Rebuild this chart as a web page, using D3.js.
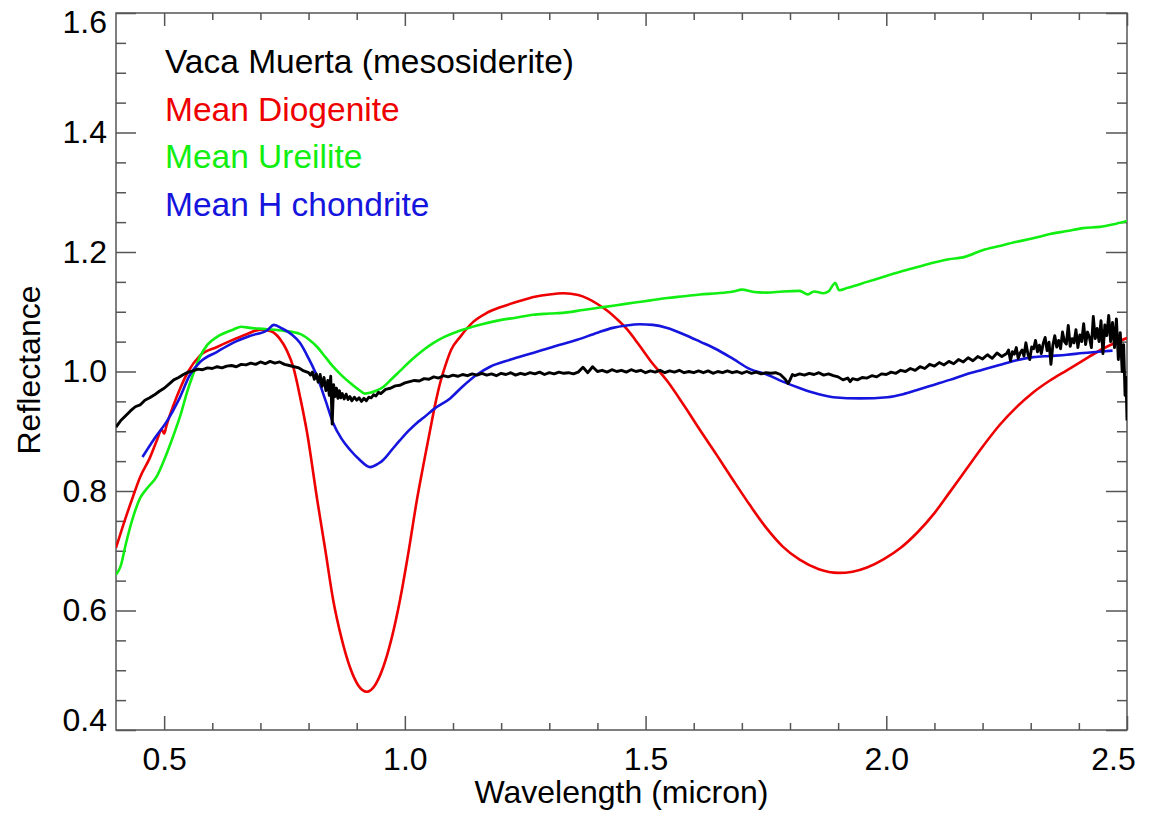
<!DOCTYPE html>
<html>
<head>
<meta charset="utf-8">
<script src="https://cdn.jsdelivr.net/npm/d3@7"></script>
<style>
  body { margin: 0; background: #fff; }
  svg text { font-family: "Liberation Sans", Arial, Helvetica, sans-serif; }
</style>
</head>
<body>
<svg id="chart" width="1156" height="818"></svg>
<script>
"use strict";

// series: [wavelength (micron), reflectance]
const vacaMuerta = [
  [0.40,0.907],[0.41,0.918],[0.42,0.926],[0.43,0.934],[0.44,0.941],[0.45,0.944],[0.46,0.952],[0.47,0.956],
  [0.48,0.961],[0.49,0.967],[0.50,0.972],[0.51,0.979],[0.52,0.986],[0.53,0.990],[0.54,0.995],[0.55,0.999],
  [0.56,1.001],[0.57,1.004],[0.58,1.003],[0.59,1.006],[0.60,1.005],[0.61,1.008],[0.62,1.006],[0.63,1.009],
  [0.64,1.010],[0.65,1.008],[0.66,1.012],[0.67,1.011],[0.68,1.014],[0.69,1.012],[0.70,1.016],[0.71,1.013],
  [0.72,1.017],[0.73,1.014],[0.74,1.016],[0.75,1.012],[0.76,1.010],[0.77,1.008],[0.78,1.006],[0.79,1.001],
  [0.80,0.998],[0.804,0.994],[0.808,0.999],[0.812,0.987],[0.816,0.996],[0.820,0.982],[0.824,0.995],
  [0.828,0.975],[0.832,0.990],[0.836,0.968],[0.840,0.985],[0.843,0.960],[0.846,0.992],[0.849,0.912],
  [0.852,0.978],[0.855,0.958],[0.858,0.972],[0.861,0.955],[0.864,0.968],[0.867,0.956],[0.870,0.963],
  [0.874,0.954],[0.878,0.962],[0.882,0.953],[0.886,0.958],[0.890,0.951],[0.895,0.957],[0.90,0.952],
  [0.905,0.956],[0.91,0.950],[0.915,0.955],[0.92,0.951],[0.925,0.957],[0.93,0.956],[0.935,0.961],
  [0.94,0.959],[0.945,0.965],[0.95,0.963],[0.96,0.970],[0.97,0.972],[0.98,0.976],[0.99,0.977],[1.00,0.981],
  [1.01,0.983],[1.02,0.985],[1.03,0.984],[1.04,0.988],[1.05,0.987],[1.06,0.991],[1.07,0.989],[1.08,0.993],
  [1.09,0.991],[1.10,0.994],[1.11,0.992],[1.12,0.995],[1.13,0.993],[1.14,0.996],[1.15,0.994],[1.16,0.997],
  [1.17,0.994],[1.18,0.996],[1.19,0.993],[1.20,0.997],[1.21,0.995],[1.22,0.998],[1.23,0.994],[1.24,0.997],
  [1.25,0.995],[1.26,0.998],[1.27,0.996],[1.28,0.999],[1.29,0.995],[1.30,0.998],[1.31,0.996],[1.32,0.999],
  [1.33,0.997],[1.34,0.998],[1.35,0.996],[1.36,0.999],[1.37,1.007],[1.38,0.998],[1.39,1.008],[1.40,1.000],
  [1.41,1.002],[1.42,0.999],[1.43,1.003],[1.44,1.000],[1.45,1.002],[1.46,0.999],[1.47,1.003],[1.48,1.000],
  [1.49,1.002],[1.50,0.998],[1.51,1.001],[1.52,0.999],[1.53,1.002],[1.54,0.998],[1.55,1.001],[1.56,0.999],
  [1.57,1.002],[1.58,0.998],[1.59,1.000],[1.60,0.998],[1.61,1.001],[1.62,0.998],[1.63,1.001],[1.64,0.997],
  [1.65,1.000],[1.66,0.998],[1.67,1.001],[1.68,0.998],[1.69,1.000],[1.70,0.997],[1.71,1.000],[1.72,0.997],
  [1.73,0.999],[1.74,0.996],[1.75,0.998],[1.76,0.997],[1.77,0.998],[1.78,0.995],[1.79,0.987],[1.796,0.980],
  [1.80,0.986],[1.805,0.995],[1.81,0.993],[1.82,0.996],[1.83,0.994],[1.84,0.997],[1.85,0.995],[1.86,0.998],
  [1.87,0.994],[1.88,0.996],[1.89,0.993],[1.90,0.991],[1.91,0.986],[1.92,0.989],[1.925,0.983],[1.93,0.988],
  [1.94,0.986],[1.95,0.990],[1.96,0.989],[1.97,0.993],[1.98,0.991],[1.99,0.996],[2.00,0.995],[2.01,0.999],
  [2.02,0.997],[2.03,1.002],[2.04,1.000],[2.05,1.005],[2.06,1.002],[2.07,1.008],[2.08,1.005],[2.09,1.012],
  [2.10,1.009],[2.11,1.015],[2.12,1.011],[2.13,1.017],[2.14,1.013],[2.15,1.020],[2.16,1.016],[2.17,1.023],
  [2.18,1.018],[2.19,1.025],[2.20,1.021],[2.21,1.028],[2.22,1.022],[2.23,1.031],[2.24,1.025],
  [2.250,1.030],[2.254,1.036],[2.258,1.018],[2.262,1.033],[2.266,1.029],[2.270,1.040],[2.274,1.022],
  [2.278,1.031],[2.282,1.036],[2.286,1.026],[2.290,1.048],[2.294,1.030],[2.298,1.020],[2.302,1.041],
  [2.306,1.038],[2.310,1.052],[2.314,1.033],[2.318,1.044],[2.322,1.030],[2.326,1.047],[2.330,1.057],
  [2.334,1.035],[2.338,1.049],[2.342,1.012],[2.346,1.044],[2.350,1.060],[2.354,1.041],[2.358,1.052],
  [2.362,1.038],[2.366,1.066],[2.370,1.050],[2.374,1.046],[2.378,1.077],[2.382,1.042],[2.386,1.055],
  [2.390,1.048],[2.394,1.070],[2.398,1.040],[2.402,1.061],[2.406,1.050],[2.410,1.080],[2.414,1.045],
  [2.418,1.066],[2.422,1.057],[2.426,1.040],[2.430,1.092],[2.434,1.055],[2.438,1.072],[2.442,1.050],
  [2.446,1.085],[2.450,1.030],[2.454,1.078],[2.458,1.060],[2.462,1.094],[2.466,1.050],[2.470,1.082],
  [2.474,1.040],[2.478,1.088],[2.482,1.020],[2.486,1.065],[2.490,1.000],[2.493,1.045],[2.496,0.960],
  [2.498,0.990],[2.500,0.918]
];

const diogenite = [
  [0.40,0.705],[0.42,0.755],[0.435,0.79],[0.45,0.823],[0.47,0.855],[0.485,0.885],[0.495,0.903],[0.50,0.896],
  [0.505,0.91],[0.52,0.945],[0.535,0.975],[0.55,1.0],[0.575,1.027],[0.61,1.041],[0.64,1.052],[0.67,1.062],
  [0.70,1.070],[0.72,1.068],[0.74,1.055],[0.755,1.035],[0.768,1.008],[0.783,0.955],[0.797,0.897],
  [0.818,0.785],[0.835,0.70],[0.851,0.618],[0.868,0.555],[0.886,0.505],[0.903,0.475],[0.921,0.464],
  [0.938,0.475],[0.955,0.505],[0.973,0.555],[0.99,0.618],[1.008,0.70],[1.025,0.785],[1.04,0.85],
  [1.052,0.90],[1.063,0.945],[1.073,0.98],[1.085,1.012],[1.096,1.036],[1.115,1.058],[1.142,1.083],
  [1.17,1.098],[1.20,1.108],[1.235,1.117],[1.27,1.125],[1.30,1.129],[1.33,1.131],[1.36,1.128],[1.38,1.122],
  [1.40,1.113],[1.42,1.102],[1.44,1.088],[1.46,1.072],[1.485,1.046],[1.51,1.018],[1.545,0.984],[1.58,0.943],
  [1.613,0.902],[1.648,0.860],[1.682,0.818],[1.717,0.776],[1.752,0.737],[1.785,0.707],[1.82,0.685],
  [1.86,0.669],[1.90,0.663],[1.93,0.665],[1.96,0.672],[1.995,0.686],[2.03,0.705],[2.065,0.731],[2.10,0.763],
  [2.13,0.796],[2.165,0.835],[2.20,0.874],[2.235,0.910],[2.27,0.940],[2.305,0.965],[2.34,0.985],
  [2.375,1.002],[2.41,1.019],[2.445,1.036],[2.47,1.046],[2.50,1.056]
];

const ureilite = [
  [0.40,0.66],[0.41,0.675],[0.42,0.71],[0.435,0.755],[0.45,0.788],[0.465,0.805],[0.485,0.825],[0.50,0.852],
  [0.518,0.89],[0.535,0.93],[0.547,0.964],[0.56,0.995],[0.574,1.024],[0.59,1.045],[0.61,1.058],[0.643,1.07],
  [0.66,1.075],[0.678,1.073],[0.71,1.071],[0.75,1.068],[0.782,1.063],[0.80,1.054],[0.818,1.041],
  [0.835,1.024],[0.851,1.008],[0.868,0.994],[0.886,0.981],[0.905,0.969],[0.917,0.963],[0.93,0.965],
  [0.955,0.974],[0.972,0.987],[0.99,1.001],[1.008,1.015],[1.025,1.027],[1.042,1.038],[1.058,1.047],
  [1.08,1.057],[1.10,1.064],[1.129,1.072],[1.16,1.079],[1.198,1.086],[1.23,1.09],[1.266,1.095],[1.30,1.097],
  [1.337,1.099],[1.37,1.103],[1.405,1.107],[1.44,1.111],[1.474,1.115],[1.51,1.119],[1.545,1.123],[1.58,1.126],
  [1.613,1.129],[1.65,1.131],[1.682,1.134],[1.70,1.137],[1.725,1.133],[1.752,1.132],[1.785,1.134],
  [1.82,1.135],[1.837,1.129],[1.85,1.134],[1.869,1.131],[1.88,1.134],[1.894,1.148],[1.902,1.136],
  [1.92,1.14],[1.96,1.15],[2.00,1.16],[2.029,1.167],[2.065,1.175],[2.097,1.182],[2.13,1.188],[2.159,1.191],
  [2.20,1.203],[2.235,1.21],[2.271,1.217],[2.305,1.223],[2.34,1.23],[2.375,1.235],[2.409,1.24],
  [2.444,1.242],[2.47,1.246],[2.50,1.252]
];

const hChondrite = [
  [0.455,0.857],[0.48,0.888],[0.506,0.917],[0.53,0.952],[0.554,0.995],[0.575,1.016],[0.61,1.033],
  [0.643,1.048],[0.68,1.060],[0.714,1.069],[0.728,1.078],[0.745,1.072],[0.765,1.062],[0.782,1.048],
  [0.80,1.022],[0.818,0.991],[0.835,0.952],[0.851,0.914],[0.868,0.888],[0.886,0.869],[0.905,0.853],
  [0.928,0.840],[0.945,0.846],[0.955,0.852],[0.972,0.868],[0.99,0.885],[1.008,0.901],[1.025,0.914],
  [1.038,0.922],[1.06,0.937],[1.094,0.955],[1.12,0.975],[1.15,0.995],[1.177,1.008],[1.22,1.020],
  [1.266,1.031],[1.31,1.042],[1.358,1.053],[1.40,1.065],[1.432,1.073],[1.46,1.077],[1.488,1.079],
  [1.515,1.078],[1.545,1.073],[1.58,1.062],[1.613,1.050],[1.65,1.036],[1.682,1.021],[1.717,1.004],
  [1.752,0.995],[1.785,0.983],[1.821,0.972],[1.855,0.963],[1.89,0.957],[1.946,0.955],[2.002,0.957],
  [2.035,0.962],[2.064,0.969],[2.10,0.978],[2.132,0.986],[2.165,0.995],[2.20,1.003],[2.235,1.011],
  [2.271,1.019],[2.305,1.024],[2.34,1.026],[2.375,1.028],[2.409,1.031],[2.44,1.033],[2.47,1.035]
];

const legendNames = ["Vaca Muerta (mesosiderite)", "Mean Diogenite", "Mean Ureilite", "Mean H chondrite"];
const xMajorTicks = [0.5, 1.0, 1.5, 2.0, 2.5];
const yMajorTicks = [0.4, 0.6, 0.8, 1.0, 1.2, 1.4, 1.6];

const colors = ["#000000", "#ee0000", "#11ee11", "#1515dd"];
const series = [vacaMuerta, diogenite, ureilite, hChondrite];

const plotLeft = 116, plotRight = 1127, plotTop = 13, plotBottom = 730;
const svg = d3.select("#chart");

const x = d3.scaleLinear().domain([0.4, 2.5]).range([plotLeft, plotRight]);
const y = d3.scaleLinear().domain([0.4, 1.6]).range([plotBottom, plotTop]);

const xMinor = d3.range(5, 26).map(d => d / 10).filter(d => !xMajorTicks.some(t => Math.abs(t - d) < 1e-6));
const yMinor = d3.range(9, 32).map(d => d / 20).filter(d => !yMajorTicks.some(t => Math.abs(t - d) < 1e-6));

const axisColor = "#555";

function styleAxis(g) {
  g.select(".domain").remove();
  g.selectAll("line").attr("stroke", axisColor).attr("stroke-width", 1.5);
  g.selectAll("text").attr("fill", "#000").style("font-size", "32px")
    .style("font-family", '"Liberation Sans", Arial, sans-serif');
}

// bottom
svg.append("g").attr("transform", `translate(0,${plotBottom})`)
  .call(d3.axisBottom(x).tickValues(xMinor).tickSize(-7).tickFormat(""))
  .call(styleAxis);
const xAxisG = svg.append("g").attr("transform", `translate(0,${plotBottom})`)
  .call(d3.axisBottom(x).tickValues(xMajorTicks).tickSize(-14).tickPadding(17).tickFormat(d3.format(".1f")))
  .call(styleAxis);
xAxisG.selectAll(".tick text").filter(d => d === 2.5).attr("dx", -14);

// top
svg.append("g").attr("transform", `translate(0,${plotTop})`)
  .call(d3.axisTop(x).tickValues(xMinor).tickSize(-7).tickFormat(""))
  .call(styleAxis);
svg.append("g").attr("transform", `translate(0,${plotTop})`)
  .call(d3.axisTop(x).tickValues(xMajorTicks).tickSize(-13).tickFormat(""))
  .call(styleAxis);

// left
svg.append("g").attr("transform", `translate(${plotLeft},0)`)
  .call(d3.axisLeft(y).tickValues(yMinor).tickSize(-10).tickFormat(""))
  .call(styleAxis);
const yAxisG = svg.append("g").attr("transform", `translate(${plotLeft},0)`)
  .call(d3.axisLeft(y).tickValues(yMajorTicks).tickSize(-20).tickPadding(9).tickFormat(d3.format(".1f")))
  .call(styleAxis);
yAxisG.selectAll(".tick text").filter(d => d === 1.6).attr("dy", "0.6em");
yAxisG.selectAll(".tick text").filter(d => d === 0.4).attr("dy", "0.02em");

// right
svg.append("g").attr("transform", `translate(${plotRight},0)`)
  .call(d3.axisRight(y).tickValues(yMinor).tickSize(-10).tickFormat(""))
  .call(styleAxis);
svg.append("g").attr("transform", `translate(${plotRight},0)`)
  .call(d3.axisRight(y).tickValues(yMajorTicks).tickSize(-21).tickFormat(""))
  .call(styleAxis);

// frame
svg.append("rect")
  .attr("x", plotLeft).attr("y", plotTop)
  .attr("width", plotRight - plotLeft).attr("height", plotBottom - plotTop)
  .attr("fill", "none").attr("stroke", axisColor).attr("stroke-width", 1.5);

// curves
svg.append("clipPath").attr("id", "plotclip")
  .append("rect").attr("x", plotLeft).attr("y", plotTop)
  .attr("width", plotRight - plotLeft).attr("height", plotBottom - plotTop);

const smooth = d3.line().x(d => x(d[0])).y(d => y(d[1])).curve(d3.curveMonotoneX);
const raw = d3.line().x(d => x(d[0])).y(d => y(d[1]));

const plot = svg.append("g").attr("clip-path", "url(#plotclip)");
[1, 2, 3].forEach(i => {
  plot.append("path").datum(series[i])
    .attr("d", smooth)
    .attr("fill", "none")
    .attr("stroke", colors[i])
    .attr("stroke-width", 2.6)
    .attr("stroke-linejoin", "round");
});
plot.append("path").datum(vacaMuerta)
  .attr("d", raw)
  .attr("fill", "none")
  .attr("stroke", colors[0])
  .attr("stroke-width", 2.9)
  .attr("stroke-linejoin", "round");

// legend
svg.append("g").selectAll("text").data(legendNames).join("text")
  .attr("x", 165)
  .attr("y", (d, i) => 73 + i * 47.5)
  .attr("fill", (d, i) => colors[i])
  .style("font-size", "33.5px")
  .text(d => d);

// axis titles
svg.append("text")
  .attr("x", (plotLeft + plotRight) / 2).attr("y", 803)
  .attr("text-anchor", "middle")
  .style("font-size", "32px")
  .text("Wavelength (micron)");

svg.append("text")
  .attr("transform", "translate(40,370) rotate(-90)")
  .attr("text-anchor", "middle")
  .style("font-size", "32px")
  .text("Reflectance");
</script>
</body>
</html>
